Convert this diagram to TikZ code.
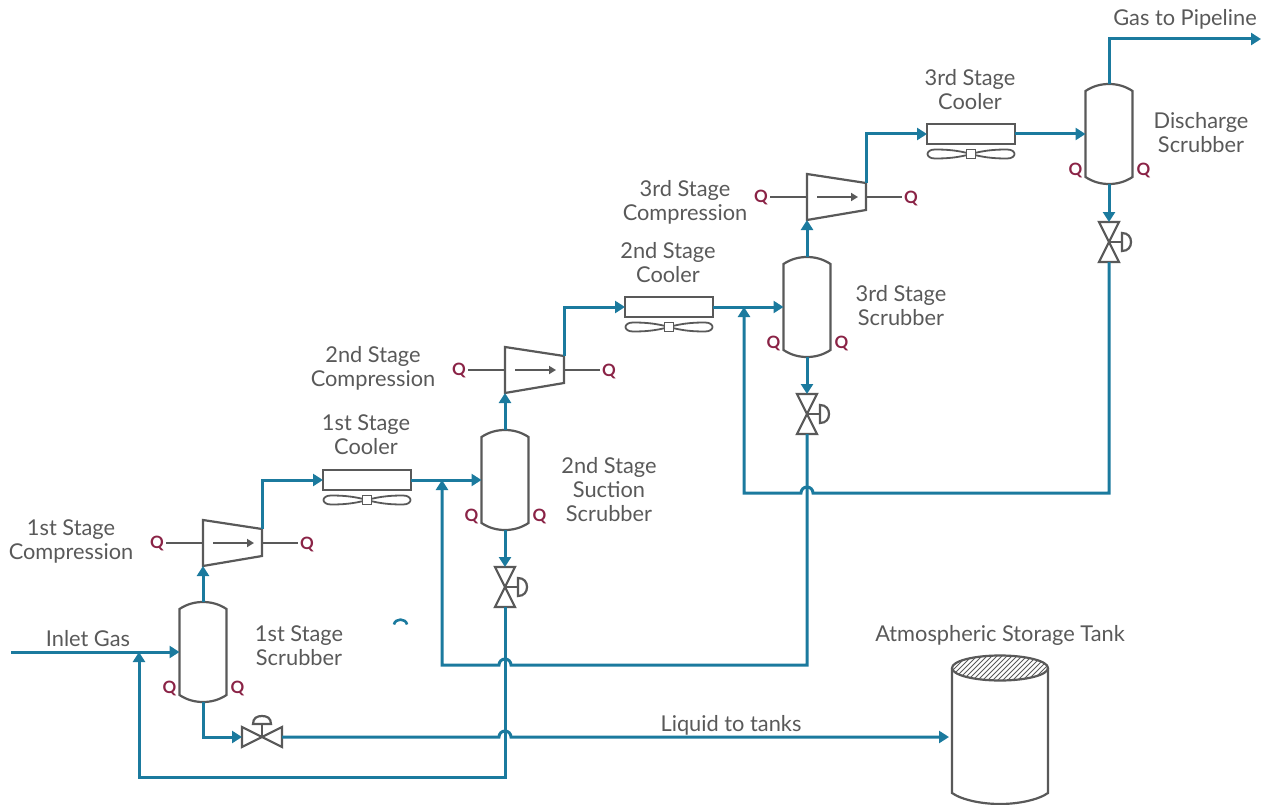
\documentclass[tikz,border=0pt]{standalone}
\usepackage{fontspec}
\setmainfont{Lato}
\usetikzlibrary{arrows.meta}
\definecolor{pipe}{HTML}{1B7A9E}
\definecolor{equip}{HTML}{595959}
\definecolor{qred}{HTML}{8A2346}
\definecolor{txt}{HTML}{595959}
\tikzset{
  pipeline/.style={draw=pipe,line width=3pt,line join=miter},
  flow/.style={pipeline,-{Triangle[length=10pt,width=12pt]}},
  equipline/.style={draw=equip,line width=2.2pt,line join=miter},
  lbl/.style={text=txt,font=\fontsize{21.8}{24}\selectfont,align=center,inner sep=0pt},
  qlbl/.style={text=qred,font=\fontsize{17}{17}\selectfont\bfseries,inner sep=0pt},
  scrubber/.pic={
    \draw[equipline,fill=white] (-23.5,-43) .. controls (-16,-48) and (-8,-50) .. (0,-50)
      .. controls (8,-50) and (16,-48) .. (23.5,-43) -- (23.5,43)
      .. controls (16,48) and (8,50) .. (0,50)
      .. controls (-8,50) and (-16,48) .. (-23.5,43) -- cycle;
    \coordinate (-top) at (0,-50);
    \coordinate (-bot) at (0,50);
    \coordinate (-in) at (-23.5,0);
    \node[qlbl] (-ql) at (-33.5,36) {Q};
    \node[qlbl] (-qr) at (34.5,36) {Q};
  },
  compressor/.pic={
    \draw[equipline,fill=white] (0,-23) -- (59,-14) -- (59,13) -- (0,23) -- cycle;
    \coordinate (-in) at (0,23);
    \coordinate (-out) at (59,-14);
    \coordinate (-l) at (0,0);
    \coordinate (-r) at (59,0);
    \draw[draw=equip,line width=1.8pt,-{Triangle[length=7pt,width=8pt]}] (10,0) -- (51,0);
    \node[qlbl] (-ql) at (-46,0) {Q};
    \node[qlbl] (-qr) at (104,1) {Q};
    \draw[equipline] (-ql.east)++(2,0) -- (-l);
    \draw[equipline] (-r) -- ++(36,0);
  },
  cooler/.pic={
    \draw[equipline,fill=white] (0,-10) rectangle (88,10);
    \coordinate (-in) at (0,0);
    \coordinate (-out) at (88,0);
    \draw[draw=equip,line width=1.8pt] (44,20)
      .. controls (30,16) and (18,15.5) .. (8,15.5)
      .. controls (-2,15.5) and (-2,24.5) .. (8,24.5)
      .. controls (18,24.5) and (30,24) .. (44,20)
      .. controls (58,16) and (70,15.5) .. (80,15.5)
      .. controls (90,15.5) and (90,24.5) .. (80,24.5)
      .. controls (70,24.5) and (58,24) .. (44,20);
    \draw[draw=equip,line width=1.8pt,fill=white] (39.5,15.5) rectangle (48.5,24.5);
  },
  vvalve/.pic={
    \draw[equipline,fill=white] (-10,-20) -- (10,-20) -- (-10,20) -- (10,20) -- cycle;
    \draw[equipline] (0,0) -- (13,0);
    \draw[equipline,fill=white] (13,-9) .. controls (19,-9) and (22,-5) .. (22,0) .. controls (22,5) and (19,9) .. (13,9) -- cycle;
    \coordinate (-in) at (0,-20);
    \coordinate (-out) at (0,20);
  },
  hvalve/.pic={
    \draw[equipline,fill=white] (-20,-10) -- (20,10) -- (20,-10) -- (-20,10) -- cycle;
    \draw[equipline] (0,0) -- (0,-13);
    \draw[equipline,fill=white] (-9,-13) .. controls (-9,-19) and (-5,-21) .. (0,-21) .. controls (5,-21) and (9,-19) .. (9,-13) -- cycle;
    \coordinate (-in) at (-20,0);
    \coordinate (-out) at (20,0);
  },
}
\begin{document}
\begin{tikzpicture}[x=1pt,y=-1pt]
\useasboundingbox (0,0) rectangle (1268,805);
% equipment
\pic (s1) at (203,652) {scrubber};
\pic (s2) at (505,480) {scrubber};
\pic (s3) at (807,307) {scrubber};
\pic (s4) at (1109,134) {scrubber};
\pic (c1) at (203,543) {compressor};
\pic (c2) at (505,370) {compressor};
\pic (c3) at (807,197) {compressor};
\pic (k1) at (323,480) {cooler};
\pic (k2) at (625,307) {cooler};
\pic (k3) at (927,134) {cooler};
\pic (v1) at (262,737) {hvalve};
\pic (v2) at (505,587) {vvalve};
\pic (v3) at (807,414) {vvalve};
\pic (v4) at (1109,242) {vvalve};
% tank
\draw[equipline,fill=white] (952,668) -- (952,793) .. controls (962,800) and (982,804) .. (1000,804)
  .. controls (1018,804) and (1038,800) .. (1048,793) -- (1048,668);
\begin{scope}
  \clip (1000,668) ellipse [x radius=48,y radius=12.5];
  \foreach \hx in {930,935,...,1070}
    \draw[draw=equip,line width=0.8pt] (\hx,688) -- ++(40,-40);
\end{scope}
\draw[equipline] (1000,668) ellipse [x radius=48,y radius=12.5];
\coordinate (tankin) at (949,737);
% free ends
\coordinate (inlet) at (11,652);
\coordinate (gasout) at (1261,39);
\coordinate (m1) at (139,652);
\coordinate (m2) at (442,480);
\coordinate (m3) at (744,307);
% pipes
\draw[flow] (inlet) -- (s1-in);
\draw[flow] (s1-top) -- (c1-in);
\draw[flow] (c1-out) |- (k1-in);
\draw[flow] (k1-out) -- (s2-in);
\draw[flow] (s2-top) -- (c2-in);
\draw[flow] (c2-out) |- (k2-in);
\draw[flow] (k2-out) -- (s3-in);
\draw[flow] (s3-top) -- (c3-in);
\draw[flow] (c3-out) |- (k3-in);
\draw[flow] (k3-out) -- (s4-in);
\draw[flow] (s4-top) |- (gasout);
\draw[flow] (s1-bot) |- (v1-in);
\draw[flow] (s2-bot) -- (v2-in);
\draw[flow] (s3-bot) -- (v3-in);
\draw[flow] (s4-bot) -- (v4-in);
% liquid to tank, hopping the line at x=505
\draw[flow] (v1-out) -- (499,737) .. controls +(0,-3.3) and +(-3.3,0) .. ++(6,-6) .. controls +(3.3,0) and +(0,-3.3) .. ++(6,6) -- (tankin);
% return from valve 2
\draw[flow] (v2-out) -- (505,777) -| (m1);
% return from valve 3
\draw[flow] (v3-out) -- (807,665) -- (511,665) .. controls +(0,-3.3) and +(3.3,0) .. ++(-6,-6) .. controls +(-3.3,0) and +(0,-3.3) .. ++(-6,6) -| (m2);
% return from valve 4
\draw[flow] (v4-out) -- (1109,493) -- (813,493) .. controls +(0,-3.3) and +(3.3,0) .. ++(-6,-6) .. controls +(-3.3,0) and +(0,-3.3) .. ++(-6,6) -| (m3);
% stray arc
\draw[draw=pipe,line width=2.6pt] (394,624.5) .. controls (395,618) and (406,618) .. (407,624.5);
% labels
\node[lbl] (t1) at (71,541) {1st Stage\\Compression};
\node[lbl] (t2) at (299,645.5) {1st Stage\\Scrubber};
\node[lbl] (t3) at (88,638.5) {Inlet Gas};
\node[lbl] (t4) at (366,434.5) {1st Stage\\Cooler};
\node[lbl] (t5) at (373,368.5) {2nd Stage\\Compression};
\node[lbl] (t6) at (609,490) {2nd Stage\\Suction\\Scrubber};
\node[lbl] (t7) at (668,262.5) {2nd Stage\\Cooler};
\node[lbl] (t8) at (685,202.5) {3rd Stage\\Compression};
\node[lbl] (t9) at (901,305.5) {3rd Stage\\Scrubber};
\node[lbl] (t10) at (970,90) {3rd Stage\\Cooler};
\node[lbl] (t11) at (1201,133) {Discharge\\Scrubber};
\node[lbl] (t12) at (1185,19) {Gas to Pipeline};
\node[lbl] (t13) at (1000,635.5) {Atmospheric Storage Tank};
\node[lbl] (t14) at (731,725) {Liquid to tanks};
\end{tikzpicture}
\end{document}
